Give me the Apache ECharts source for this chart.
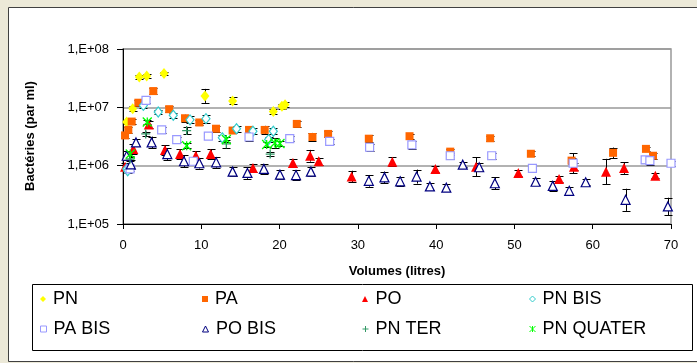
<!DOCTYPE html>
<html><head><meta charset="utf-8">
<script src="https://cdn.jsdelivr.net/npm/echarts@6/dist/echarts.min.js"></script>
<style>html,body{margin:0;padding:0;background:#ECE9D8;}#c{width:697px;height:363px;}</style>
</head><body><div id="c"></div>
<script>
// ---- data ----
const seriesNames = ['PN','PA','PO','PN BIS','PA BIS','PO BIS','PN TER','PN QUATER'];
const xTicks = [0,10,20,30,40,50,60,70];
const yTickLabels = ['1,E+05','1,E+06','1,E+07','1,E+08'];

const pnX = [0.47,1.24,2.08,3.03,5.24,10.47,14.0,19.2,20.3,20.7];
const pnY = [5.6e6,9.5e6,3.3e7,3.45e7,3.8e7,1.57e7,1.29e7,8.5e6,1.04e7,1.11e7];
const pnE = [0.04,0.04,0.04,0.04,0.03,0.12,0.06,0.04,0.04,0.04];

const paX = [0.26,0.68,1.11,1.96,3.87,5.9,7.92,9.75,11.88,14.0,16.1,18.1,22.2,24.2,26.2,31.4,36.6,41.8,46.9,52.1,57.3,62.6,66.8,67.7];
const paY = [3.3e6,4.1e6,5.7e6,1.2e7,1.9e7,9.3e6,6.5e6,5.5e6,4.3e6,4.0e6,4.1e6,4.1e6,5.2e6,3.1e6,3.5e6,2.9e6,3.2e6,1.74e6,2.95e6,1.6e6,1.22e6,1.66e6,1.94e6,1.48e6];
const paE = [0.05,0.05,0.05,0.05,0.05,0.05,0.06,0.05,0.05,0.05,0.05,0.07,0.05,0.07,0.05,0.06,0.04,0.05,0.04,0.04,0.05,0.09,0.04,0.05];

const poX = [0.26,1.32,3.3,5.36,7.28,9.3,11.2,16.6,21.7,23.9,25.0,29.2,34.4,39.9,45.1,50.5,55.7,57.6,61.7,64.0,68.0];
const poY = [9.6e5,1.94e6,5.1e6,1.86e6,1.58e6,1.48e6,1.58e6,9.1e5,1.11e6,1.48e6,1.19e6,6.5e5,1.17e6,8.8e5,9.6e5,7.5e5,5.9e5,9.6e5,7.9e5,9.1e5,6.7e5];
const poE = [0.06,0.08,0.06,0.08,0.08,0.08,0.08,0.07,0.07,0.1,0.06,0.1,0.08,0.05,0.16,0.05,0.05,0.06,0.22,0.1,0.04];

const pnbX = [0.47,0.6,2.6,4.5,6.42,8.56,10.6,12.68,14.5,16.6,18.6,19.2];
const pnbY = [8.8e5,8.2e5,1.08e7,8.3e6,7.3e6,6.1e6,6.4e6,3.0e6,4.3e6,3.9e6,2.8e6,3.9e6];
const pnbE = [0.04,0.04,0.05,0.04,0.04,0.06,0.07,0.05,0.05,0.05,0.05,0.05];

const pabX = [0.9,2.94,4.94,6.86,8.98,10.9,16.1,21.3,26.4,31.5,36.9,41.8,47.1,52.3,57.5,66.7,67.3,70];
const pabY = [8.8e5,1.32e7,4.1e6,2.8e6,1.19e6,3.2e6,3.1e6,2.9e6,2.6e6,2.07e6,2.27e6,1.48e6,1.48e6,9.0e5,1.1e6,1.26e6,1.22e6,1.1e6];
const pabE = [0.04,0.05,0.05,0.04,0.04,0.05,0.07,0.04,0.04,0.06,0.07,0.05,0.05,0.05,0.17,0.06,0.08,0.04];

const pobX = [0.47,1.0,1.66,3.66,5.66,7.79,9.75,11.9,14.0,15.9,18.0,20.05,22.1,24.0,31.4,33.4,35.4,37.5,39.2,41.3,43.4,45.5,47.5,52.7,54.9,57.0,59.1,64.2,69.6];
const pobY = [1.48e6,1.05e6,2.5e6,2.5e6,1.58e6,1.19e6,1.1e6,1.14e6,7.9e5,7.5e5,8.8e5,7.0e5,6.9e5,7.9e5,5.5e5,6.3e5,5.4e5,6.5e5,4.4e5,4.2e5,1.04e6,9.4e5,5.0e5,5.3e5,4.5e5,3.7e5,5.2e5,2.6e5,2.0e5];
const pobE = [0.08,0.08,0.06,0.1,0.1,0.1,0.09,0.09,0.08,0.1,0.08,0.08,0.08,0.08,0.1,0.1,0.08,0.12,0.06,0.06,0.04,0.07,0.1,0.06,0.08,0.06,0.05,0.19,0.15];

const pntX = [0.9,2.9,8.13,13.2,18.8];
const pntY = [1.3e6,3.5e6,4.0e6,2.37e6,1.58e6];
const pntE = [0.04,0.04,0.06,0.07,0.04];

const pnqX = [0.93,3.1,8.13,13.2,18.35,19.4,20.05];
const pnqY = [1.58e6,5.6e6,2.2e6,2.8e6,2.3e6,2.45e6,2.4e6];
const pnqE = [0.04,0.04,0.04,0.05,0.04,0.08,0.04];

// ---- styles ----
const PLUS = 'path://M5,0L5,10M0,5L10,5';
const STAR = 'path://M0,0L10,10M10,0L0,10M5,0L5,10';
const RECTP = 'path://M0,0L10,0L10,10L0,10Z';
const DIAP = 'path://M5,0L10,5L5,10L0,5Z';
const TRIP = 'path://M5,0L10,10L0,10Z';
const defs = [
  {x:pnX,y:pnY,e:pnE,symbol:'diamond',size:[9,11],style:{color:'#FFFF00'}},
  {x:paX,y:paY,e:paE,symbol:'rect',size:8,style:{color:'#FF6600'}},
  {x:poX,y:poY,e:poE,symbol:'triangle',size:[10,10],style:{color:'#FF0000'}},
  {x:pnbX,y:pnbY,e:pnbE,symbol:DIAP,size:[8,10],style:{color:'#fff',borderColor:'#33CCCC',borderWidth:1.2}},
  {x:pabX,y:pabY,e:pabE,symbol:RECTP,size:8,style:{color:'#fff',borderColor:'#9999FF',borderWidth:1.2}},
  {x:pobX,y:pobY,e:pobE,symbol:TRIP,size:[9,9],style:{color:'#fff',borderColor:'#000080',borderWidth:1.2}},
  {x:pntX,y:pntY,e:pntE,symbol:PLUS,size:9,style:{color:'#339966',borderColor:'#339966',borderWidth:1.3}},
  {x:pnqX,y:pnqY,e:pnqE,symbol:STAR,size:9,style:{color:'#00FF00',borderColor:'#00FF00',borderWidth:1.3}}
];
const legendIcons = [DIAP,RECTP,TRIP,DIAP,RECTP,TRIP,PLUS,STAR];
const legendSizes = [[6,8],[6,6],[7,6],[6,8],[6,6],[7,6],[6,6],[6,7]];
const legendStyles = [
  {color:'#FFFF00',borderWidth:0},
  {color:'#FF6600',borderWidth:0},
  {color:'#FF0000',borderWidth:0},
  {color:'#fff',borderColor:'#33CCCC',borderWidth:1},
  {color:'#fff',borderColor:'#9999FF',borderWidth:1},
  {color:'#fff',borderColor:'#000080',borderWidth:1},
  {color:'#339966',borderColor:'#339966',borderWidth:1},
  {color:'#00FF00',borderColor:'#00FF00',borderWidth:1}
];

const errData = [];
defs.forEach(d => d.x.forEach((x,i) => {
  const f = Math.pow(10, d.e[i]);
  errData.push([x, d.y[i]/f, d.y[i]*f]);
}));

const series = [{
  type:'custom', name:'err', z:1, silent:true, clip:false,
  encode:{x:0,y:[1,2]},
  data: errData,
  renderItem:(params, api) => {
    const lo = api.coord([api.value(0), api.value(1)]);
    const hi = api.coord([api.value(0), api.value(2)]);
    const w = 4, st = {stroke:'#000', lineWidth:1};
    const cx = Math.round(lo[0]) + 0.5;
    return {type:'group', children:[
      {type:'line', shape:{x1:cx,y1:lo[1],x2:cx,y2:hi[1]}, style:st},
      {type:'line', shape:{x1:cx-w,y1:Math.round(lo[1])+0.5,x2:cx+w,y2:Math.round(lo[1])+0.5}, style:st},
      {type:'line', shape:{x1:cx-w,y1:Math.round(hi[1])+0.5,x2:cx+w,y2:Math.round(hi[1])+0.5}, style:st}
    ]};
  }
}];
defs.forEach((d,k) => {
  series.push({
    type:'scatter', name:seriesNames[k], z:3+k,
    symbol:d.symbol, symbolSize:d.size,
    itemStyle:Object.assign({opacity:1}, d.style),
    data:d.x.map((x,i)=>[x,d.y[i]])
  });
});

const colX = [40,202,362,529];
const rowY = [290,320];
const legends = seriesNames.map((n,k) => ({
  data:[{name:n, icon:legendIcons[k], itemStyle:legendStyles[k]}], left:colX[k%4], top:rowY[Math.floor(k/4)], padding:0,
  itemWidth:legendSizes[k][0], itemHeight:legendSizes[k][1], itemGap:0, selectedMode:false,
  textStyle:{fontFamily:'Liberation Sans, Arial', fontSize:18, color:'#000', padding:[0,0,0,2]}
}));

const chart = echarts.init(document.getElementById('c'));
chart.setOption({
  animation:false,
  backgroundColor:'#ECE9D8',
  textStyle:{fontFamily:'Liberation Sans, Arial'},
  graphic:[
    {type:'rect', z:-10, shape:{x:8.5,y:7.5,width:700,height:354}, style:{fill:'#fff',stroke:'#404040',lineWidth:1}},
    {type:'rect', z:-5, shape:{x:32.5,y:284.5,width:660,height:66}, style:{fill:'#fff',stroke:'#000',lineWidth:1}},
    {type:'text', z:10, x:30, y:136, rotation:Math.PI/2, style:{text:'Bactéries (par ml)', font:'bold 13px "Liberation Sans", Arial', fill:'#000', align:'center', verticalAlign:'middle'}},
    {type:'text', z:10, x:397, y:271, style:{text:'Volumes (litres)', font:'bold 13px "Liberation Sans", Arial', fill:'#000', align:'center', verticalAlign:'middle'}}
  ],
  legend:legends,
  grid:{left:123, right:26, top:49, bottom:139, show:true, borderColor:'#999', borderWidth:1.5, backgroundColor:'transparent'},
  xAxis:{type:'value', min:0, max:70, interval:10,
    axisLine:{lineStyle:{color:'#000',width:1}},
    axisTick:{show:true, inside:false, length:5, lineStyle:{color:'#000'}},
    axisLabel:{color:'#000', fontSize:13, margin:15, formatter:v=>xTicks.includes(v)?String(v):''},
    splitLine:{show:false}},
  yAxis:{type:'log', logBase:10, min:1e5, max:1e8,
    axisLine:{show:true, lineStyle:{color:'#000',width:1}},
    axisTick:{show:true, inside:false, length:6, lineStyle:{color:'#000'}},
    axisLabel:{color:'#000', fontSize:13, margin:14, formatter:v=>{const e=Math.round(Math.log10(v)); return yTickLabels[e-5]||'';}},
    splitLine:{show:true, lineStyle:{color:'#999', width:1.5}},
    minorTick:{show:false}},
  series:series
});
</script></body></html>
